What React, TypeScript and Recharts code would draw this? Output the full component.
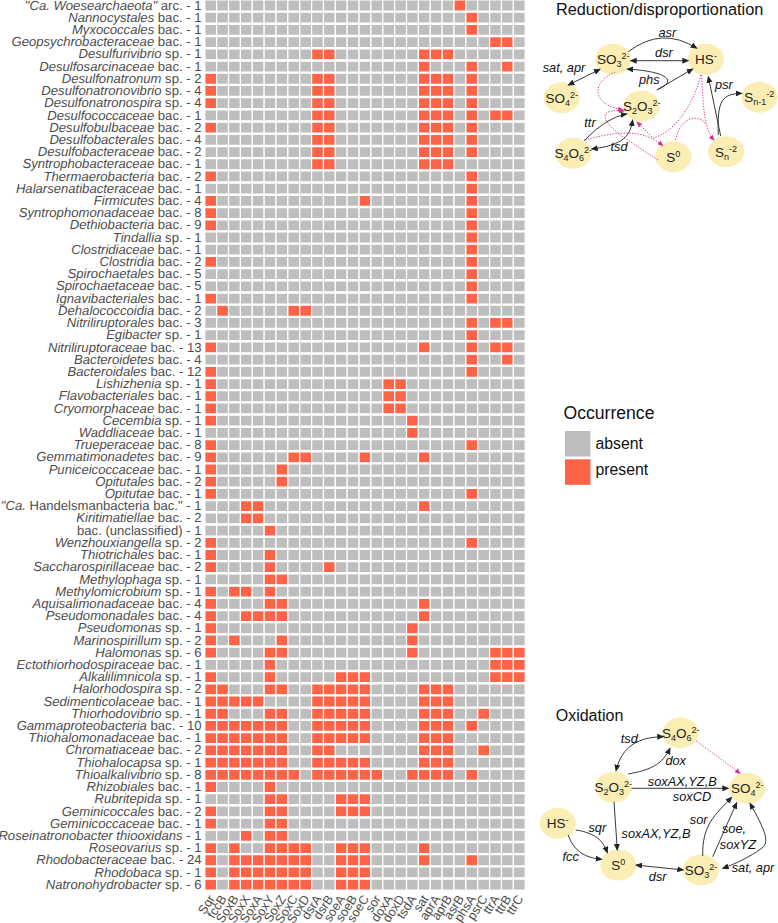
import { Bar, BarChart, Cell, XAxis, YAxis } from "recharts";

const genes = [
  "Sqr", "fccB", "SoxB", "SoxX", "SoxA", "SoxY", "SoxZ", "SoxC", "SoxD", "dsrA", "dsrB", "soeA", "soeB", "soeC",
  "sor", "doxA", "doxD", "tsdA", "sat", "aprA", "aprB", "asrB", "phsA", "psrC", "ttrA", "ttrB", "ttrC",
];

const taxaItalic = [
  "\"Ca. Woesearchaeota\"", "Nannocystales", "Myxococcales", "Geopsychrobacteraceae", "Desulfurivibrio",
  "Desulfosarcinaceae", "Desulfonatronum", "Desulfonatronovibrio", "Desulfonatronospira", "Desulfococcaceae",
  "Desulfobulbaceae", "Desulfobacterales", "Desulfobacteraceae", "Syntrophobacteraceae", "Thermaerobacteria",
  "Halarsenatibacteraceae", "Firmicutes", "Syntrophomonadaceae", "Dethiobacteria", "Tindallia", "Clostridiaceae",
  "Clostridia", "Spirochaetales", "Spirochaetaceae", "Ignavibacteriales", "Dehalococcoidia", "Nitriliruptorales",
  "Egibacter", "Nitriliruptoraceae", "Bacteroidetes", "Bacteroidales", "Lishizhenia", "Flavobacteriales",
  "Cryomorphaceae", "Cecembia", "Waddliaceae", "Trueperaceae", "Gemmatimonadetes", "Puniceicoccaceae", "Opitutales",
  "Opitutae", "\"Ca.", "Kiritimatiellae", "", "Wenzhouxiangella", "Thiotrichales", "Saccharospirillaceae",
  "Methylophaga", "Methylomicrobium", "Aquisalimonadaceae", "Pseudomonadales", "Pseudomonas", "Marinospirillum",
  "Halomonas", "Ectothiorhodospiraceae", "Alkalilimnicola", "Halorhodospira", "Sedimenticolaceae", "Thiorhodovibrio",
  "Gammaproteobacteria", "Thiohalomonadaceae", "Chromatiaceae", "Thiohalocapsa", "Thioalkalivibrio", "Rhizobiales",
  "Rubritepida", "Geminicoccales", "Geminicoccaceae", "Roseinatronobacter thiooxidans", "Roseovarius",
  "Rhodobacteraceae", "Rhodobaca", "Natronohydrobacter",
];

const taxaPlain = [
  " arc. - 1", " bac. - 1", " bac. - 1", " bac. - 1", " sp. - 1", " bac. - 1", " sp. - 2", " sp. - 4", " sp. - 4",
  " bac. - 1", " bac. - 2", " bac. - 4", " bac. - 2", " bac. - 1", " bac. - 2", " bac. - 1", " bac. - 4", " bac. - 8",
  " bac. - 9", " sp. - 1", " bac. - 1", " bac. - 2", " bac. - 5", " bac. - 5", " bac. - 1", " bac. - 2", " bac. - 3",
  " sp. - 1", " bac. - 13", " bac. - 4", " bac. - 12", " sp. - 1", " bac. - 1", " bac. - 1", " sp. - 1", " bac. - 1",
  " bac. - 8", " bac. - 9", " bac. - 1", " bac. - 2", " bac. - 1", " Handelsmanbacteria bac.\" - 1", " bac. - 2",
  "bac. (unclassified) - 1", " sp. - 2", " bac. - 1", " bac. - 2", " sp. - 1", " sp. - 1", " bac. - 4", " bac. - 4",
  " sp. - 1", " sp. - 2", " sp. - 6", " bac. - 1", " sp. - 1", " sp. - 2", " bac. - 1", " sp. - 1", " bac. - 10",
  " bac. - 1", " bac. - 2", " sp. - 1", " sp. - 8", " bac. - 1", " sp. - 1", " bac. - 2", " bac. - 1", " - 1",
  " sp. - 1", " bac. - 24", " sp. - 1", " sp. - 6",
];

// gene columns found in each taxon, same order as the labels above
const presentCols = [
  [21], [22], [22], [24, 25], [9, 10, 18, 19, 20], [18, 22, 25],
  [0, 9, 10, 18, 19, 20, 22], [0, 9, 10, 18, 19, 20, 22], [0, 9, 10, 18, 19, 20, 22],
  [9, 10, 18, 19, 20, 22, 24, 25], [0, 9, 10, 18, 19, 20, 22], [9, 10, 18, 19, 20, 22], [9, 10, 18, 19, 20, 22],
  [9, 10, 18, 19, 20], [0, 22], [22], [0, 13, 22], [0, 22], [0, 22], [22], [22], [0, 22], [22], [22], [0, 22],
  [1, 7, 8], [22, 24, 25], [22], [0, 18, 22, 24, 25], [22, 25], [0, 22], [0, 15, 16], [0, 15, 16], [0, 15, 16],
  [0, 17], [17], [0, 22], [0, 7, 8, 13, 18], [0, 6], [0, 6], [0, 22], [3, 4, 18], [3, 4], [5], [0, 22], [0, 5],
  [0, 5, 10], [5, 6], [0, 2, 3, 5], [0, 5, 6, 18], [0, 3, 4, 5, 6, 18], [0, 17], [0, 2, 6, 17],
  [0, 5, 6, 17, 24, 25, 26], [5, 24, 25, 26], [0, 5, 11, 12, 13, 24, 25, 26],
  [0, 1, 5, 6, 9, 10, 11, 12, 13, 18, 19, 20], [0, 1, 2, 3, 4, 9, 10, 11, 12, 13, 18, 19, 20],
  [0, 1, 5, 6, 9, 10, 11, 12, 13, 18, 19, 20, 23],
  [0, 1, 2, 3, 4, 5, 6, 9, 10, 11, 12, 13, 18, 19, 20, 22], [0, 1, 2, 3, 4, 5, 6, 9, 10, 11, 12, 13, 18, 19, 20],
  [0, 1, 2, 3, 4, 5, 6, 9, 10, 18, 19, 20, 23], [0, 1, 2, 3, 4, 5, 6, 9, 10, 11, 12, 13, 18, 19, 20],
  [0, 1, 2, 3, 4, 5, 6, 7, 9, 10, 11, 12, 13, 14, 17, 18, 19, 20, 22], [0, 5], [5, 6, 11, 12, 13],
  [0, 5, 6, 11, 12, 13], [0, 5, 6], [3, 5, 6], [0, 2, 5, 6, 7, 8, 11, 12, 13, 18],
  [0, 2, 3, 4, 5, 6, 7, 8, 11, 12, 13, 18, 22], [0, 2, 3, 4, 5, 6, 7, 8, 11, 12, 13],
  [0, 2, 3, 4, 5, 6, 7, 8, 11, 12, 13],
];

const ABSENT = "#bebebe";
const PRESENT = "#ff6347";
const NODE = "#fbeeb4";
const PINK = "#d4308f";
const FONT = "'Liberation Sans', Arial, sans-serif";
const ROW_H = 891.4 / taxaItalic.length;

const rows = taxaItalic.map((t, i) => {
  const row: Record<string, string | number> = { name: `${i}` };
  genes.forEach((g) => (row[g] = 1));
  return row;
});
const geneTicks = genes.map((_, i) => i + 0.5);

function TaxonTick({ x, y, payload }: any) {
  const i = Number(payload.value);
  return (
    <text
      x={x + 4.7}
      y={y}
      dy={4.5}
      textAnchor="end"
      fontSize={13.1}
      fill="#4d4d4d"
      fontFamily={FONT}
      textRendering="geometricPrecision"
    >
      {taxaItalic[i] && <tspan fontStyle="italic">{taxaItalic[i]}</tspan>}
      <tspan>{taxaPlain[i]}</tspan>
    </text>
  );
}

function GeneTick({ x, y, payload }: any) {
  return (
    <g transform={`translate(${x + 1},${y - 2})`}>
      <text
        textAnchor="end"
        dy={4.2}
        transform="rotate(-57)"
        fontSize={12.6}
        fill="#4d4d4d"
        fontFamily={FONT}
        textRendering="geometricPrecision"
      >
        {genes[Math.floor(payload.value)]}
      </text>
    </g>
  );
}

type Part = [string, "n" | "b" | "p"];

const so3: Part[] = [["SO", "n"], ["3", "b"], ["2-", "p"]];
const so4: Part[] = [["SO", "n"], ["4", "b"], ["2-", "p"]];
const s2o3: Part[] = [["S", "n"], ["2", "b"], ["O", "n"], ["3", "b"], ["2-", "p"]];
const s4o6: Part[] = [["S", "n"], ["4", "b"], ["O", "n"], ["6", "b"], ["2-", "p"]];
const hs: Part[] = [["HS", "n"], ["-", "p"]];
const s0: Part[] = [["S", "n"], ["0", "p"]];
const sn: Part[] = [["S", "n"], ["n", "b"], ["-2", "p"]];
const sn1: Part[] = [["S", "n"], ["n-1", "b"], ["-2", "p"]];

function Species({ cx, cy, parts }: { cx: number; cy: number; parts: Part[] }) {
  let level = 0;
  return (
    <g>
      <ellipse cx={cx} cy={cy} rx={18} ry={15.5} fill={NODE} />
      <text x={cx} y={cy + 5} textAnchor="middle" fontSize={13.5} fill="#222" fontFamily={FONT}>
        {parts.map(([t, k], i) => {
          const target = k === "b" ? 3 : k === "p" ? -5 : 0;
          const dy = target - level;
          level = target;
          return (
            <tspan key={i} dy={dy} fontSize={k === "n" ? 13.5 : 9}>
              {t}
            </tspan>
          );
        })}
      </text>
    </g>
  );
}

function Enzyme({ x, y, children }: { x: number; y: number; children: string }) {
  return (
    <text x={x} y={y} textAnchor="middle" fontSize={12.8} fontStyle="italic" fill="#111" fontFamily={FONT}>
      {children}
    </text>
  );
}

function Arrow({ d, both }: { d: string; both?: boolean }) {
  return (
    <path
      d={d}
      fill="none"
      stroke="#222"
      strokeWidth={0.9}
      markerEnd="url(#headBlack)"
      markerStart={both ? "url(#headBlack)" : undefined}
    />
  );
}

function Dotted({ d, head = true }: { d: string; head?: boolean }) {
  return (
    <path
      d={d}
      fill="none"
      stroke={PINK}
      strokeWidth={0.9}
      strokeDasharray="1.4 1.4"
      markerEnd={head ? "url(#headPink)" : undefined}
    />
  );
}

function Pathways() {
  return (
    <svg width={778} height={923} style={{ position: "absolute", left: 0, top: 0, pointerEvents: "none" }}>
      <defs>
        <marker id="headBlack" markerWidth={7} markerHeight={6} refX={6} refY={3} orient="auto-start-reverse" markerUnits="userSpaceOnUse">
          <path d="M0,0 L7,3 L0,6 Z" fill="#222" />
        </marker>
        <marker id="headPink" markerWidth={6} markerHeight={5} refX={5} refY={2.5} orient="auto-start-reverse" markerUnits="userSpaceOnUse">
          <path d="M0,0 L6,2.5 L0,5 Z" fill={PINK} />
        </marker>
      </defs>

      {/* reduction / disproportionation */}
      <text x={556} y={15} fontSize={16.3} fill="#111" fontFamily={FONT}>Reduction/disproportionation</text>
      <Species cx={613.3} cy={59.3} parts={so3} />
      <Species cx={706} cy={59.3} parts={hs} />
      <Species cx={561.7} cy={97.7} parts={so4} />
      <Species cx={641.7} cy={106} parts={s2o3} />
      <Species cx={759.3} cy={97.3} parts={sn1} />
      <Species cx={573.3} cy={153.3} parts={s4o6} />
      <Species cx={673.3} cy={156.7} parts={s0} />
      <Species cx={726} cy={151.7} parts={sn} />

      <Dotted d="M615,72 C592,82 590,104 623,110" />
      <Dotted d="M658,160 L623,137 C603,122 595,108 624,111" />
      <Dotted d="M700.7,75 C693,107 673,133 653,138 L637,122" />
      <Dotted d="M585,140 C620,130 645,130 662.7,145.7" />
      <Dotted d="M701.7,75 C703,110 705,130 714,140" />
      <Dotted d="M675.7,140 C680,116 700,113 706,125" head={false} />

      <Arrow d="M628.3,51.7 Q662,26 696.7,48.3" />
      <Arrow d="M630.7,60.7 L688.3,60.7" both />
      <Arrow d="M568.3,85 L600,69.3" both />
      <Arrow d="M658.3,89.3 C675,82 672,72 627.3,69" />
      <Arrow d="M656.7,90 L692.7,69" />
      <Arrow d="M720.7,136 L708.3,76.7" />
      <Arrow d="M718.3,135 C717,100 722,94 741.7,93.3" />
      <Arrow d="M584,140.7 Q607,117 626.7,114" />
      <Arrow d="M591.7,149 C625,145 630,135 632.7,120" both />

      <Enzyme x={667.3} y={37}>asr</Enzyme>
      <Enzyme x={664} y={57}>dsr</Enzyme>
      <Enzyme x={564} y={72}>sat, apr</Enzyme>
      <Enzyme x={649.3} y={84}>phs</Enzyme>
      <Enzyme x={590} y={127}>ttr</Enzyme>
      <Enzyme x={619} y={151}>tsd</Enzyme>
      <Enzyme x={724} y={89}>psr</Enzyme>

      {/* legend */}
      <text x={563.5} y={418.7} fontSize={17.6} fill="#111" fontFamily={FONT}>Occurrence</text>
      <rect x={565} y={431} width={25.5} height={25.5} fill={ABSENT} />
      <rect x={565} y={459.3} width={25.5} height={25.5} fill={PRESENT} />
      <text x={595.5} y={449} fontSize={15.8} fill="#111" fontFamily={FONT}>absent</text>
      <text x={595.5} y={475} fontSize={15.8} fill="#111" fontFamily={FONT}>present</text>

      {/* oxidation */}
      <text x={555.7} y={721} fontSize={16} fill="#111" fontFamily={FONT}>Oxidation</text>
      <Species cx={680.7} cy={732.7} parts={s4o6} />
      <Species cx={613.3} cy={787.3} parts={s2o3} />
      <Species cx={747.3} cy={788.3} parts={so4} />
      <Species cx={557.7} cy={823.3} parts={hs} />
      <Species cx={618.3} cy={865} parts={s0} />
      <Species cx={701} cy={870} parts={so3} />

      <Dotted d="M696,740.7 L740,773.3" />
      <Arrow d="M616,770.7 C622,745 640,737 663.3,736.7" both />
      <Arrow d="M628.3,774 C650,770 662,765 670,748.3" />
      <Arrow d="M631.7,788.3 L728.3,788.3" />
      <Arrow d="M614,801.7 L617.3,850" />
      <Arrow d="M575.7,830 C595,833 603,840 607.3,852.7" />
      <Arrow d="M568.3,835 C575,855 590,858 601.7,859.3" />
      <Arrow d="M636,865 L683.3,870" both />
      <Arrow d="M702.7,856 C702,825 715,815 731.7,797.3" />
      <Arrow d="M712.7,856.7 L736.7,802.7" />
      <Arrow d="M750,803.3 C765,830 770,842 762,848 C750,857 735,864 722.7,868.3" both />

      <Enzyme x={629.3} y={743}>tsd</Enzyme>
      <Enzyme x={675.7} y={765}>dox</Enzyme>
      <Enzyme x={682.3} y={786}>soxAX,YZ,B</Enzyme>
      <Enzyme x={692} y={801}>soxCD</Enzyme>
      <Enzyme x={656} y={838}>soxAX,YZ,B</Enzyme>
      <Enzyme x={698.7} y={823.5}>sor</Enzyme>
      <Enzyme x={734} y={833}>soe,</Enzyme>
      <Enzyme x={738} y={849}>soxYZ</Enzyme>
      <Enzyme x={753} y={872}>sat, apr</Enzyme>
      <Enzyme x={657.7} y={881}>dsr</Enzyme>
      <Enzyme x={597.3} y={832}>sqr</Enzyme>
      <Enzyme x={570.7} y={861}>fcc</Enzyme>
    </svg>
  );
}

export default function App() {
  return (
    <div style={{ position: "absolute", left: 0, top: 0, width: 778, height: 923, overflow: "hidden", background: "#fff" }}>
      <div style={{ position: "absolute", left: 0, top: -1 }}>
        <BarChart
          width={778}
          height={924}
          data={rows}
          layout="vertical"
          barCategoryGap={0}
          barGap={0}
          margin={{ top: 0, right: 252.8, bottom: 0, left: 0 }}
          style={{ overflow: "visible" }}
        >
          <XAxis
            type="number"
            domain={[0, genes.length]}
            ticks={geneTicks}
            interval={0}
            height={32.6}
            axisLine={false}
            tickLine={false}
            tick={<GeneTick />}
          />
          <YAxis
            type="category"
            dataKey="name"
            width={204.8}
            interval={0}
            axisLine={false}
            tickLine={false}
            tick={<TaxonTick />}
          />
          {genes.map((g, col) => (
            <Bar
              key={g}
              dataKey={g}
              stackId="grid"
              barSize={ROW_H}
              stroke="#fff"
              strokeWidth={1.2}
              isAnimationActive={false}
            >
              {rows.map((_, i) => (
                <Cell key={i} fill={presentCols[i].includes(col) ? PRESENT : ABSENT} />
              ))}
            </Bar>
          ))}
        </BarChart>
      </div>
      <Pathways />
    </div>
  );
}
